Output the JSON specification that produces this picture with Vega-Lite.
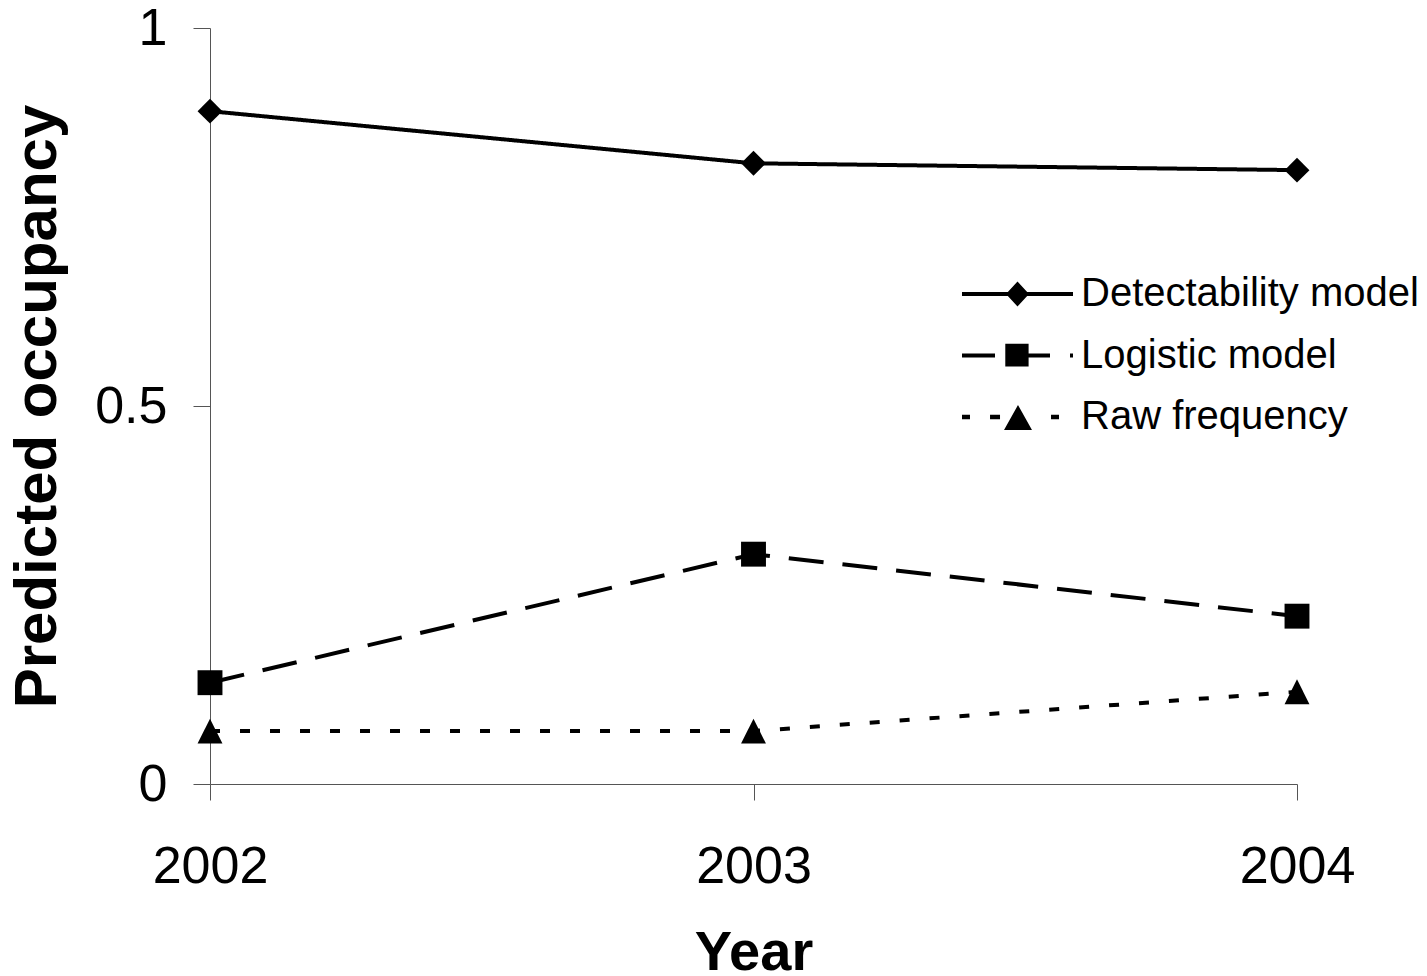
{
  "$schema": "https://vega.github.io/schema/vega-lite/v6.json",
  "width": 1087,
  "height": 756,
  "autosize": {"type": "none"},
  "padding": {"left": 210, "top": 28, "right": 130, "bottom": 192},
  "background": "white",
  "config": {
    "view": {"stroke": null},
    "font": "Liberation Sans",
    "axis": {
      "grid": false,
      "domainColor": "#555555",
      "tickColor": "#555555",
      "domainWidth": 1,
      "tickWidth": 1,
      "labelFont": "Liberation Sans",
      "titleFont": "Liberation Sans",
      "labelColor": "black",
      "titleColor": "black",
      "labelFontSize": 52,
      "labelFontWeight": "normal",
      "titleFontWeight": "bold"
    }
  },
  "data": {
    "values": [
      {"year": 2002, "series": "Detectability model", "value": 0.890},
      {"year": 2003, "series": "Detectability model", "value": 0.821},
      {"year": 2004, "series": "Detectability model", "value": 0.812},
      {"year": 2002, "series": "Logistic model", "value": 0.134},
      {"year": 2003, "series": "Logistic model", "value": 0.304},
      {"year": 2004, "series": "Logistic model", "value": 0.222},
      {"year": 2002, "series": "Raw frequency", "value": 0.070},
      {"year": 2003, "series": "Raw frequency", "value": 0.070},
      {"year": 2004, "series": "Raw frequency", "value": 0.122}
    ]
  },
  "encoding": {
    "x": {
      "field": "year",
      "type": "ordinal",
      "scale": {"type": "point", "domain": [2002, 2003, 2004], "padding": 0},
      "axis": {
        "title": "Year",
        "labelAngle": 0,
        "labelFlush": false,
        "labelOverlap": false,
        "tickSize": 16,
        "labelPadding": 41,
        "titleFontSize": 56,
        "titlePadding": 33
      }
    },
    "y": {
      "field": "value",
      "type": "quantitative",
      "scale": {"domain": [0, 1], "nice": false},
      "axis": {
        "title": "Predicted occupancy",
        "values": [0, 0.5, 1],
        "labelExpr": "datum.value == 0.5 ? '0.5' : format(datum.value, 'd')",
        "tickSize": 17,
        "labelPadding": 26,
        "labelFlush": false,
        "labelOverlap": false,
        "titleFontSize": 60,
        "titlePadding": 26
      }
    }
  },
  "layer": [
    {
      "mark": {"type": "line", "color": "black", "strokeWidth": 4, "strokeCap": "butt"},
      "encoding": {
        "detail": {"field": "series"},
        "strokeDash": {
          "field": "series",
          "type": "nominal",
          "scale": {
            "domain": ["Detectability model", "Logistic model", "Raw frequency"],
            "range": [[1, 0], [35, 19], [10, 20]]
          },
          "legend": null
        }
      }
    },
    {
      "mark": {"type": "point", "filled": true, "color": "black", "opacity": 1, "size": 620, "strokeWidth": 0},
      "encoding": {
        "shape": {
          "field": "series",
          "type": "nominal",
          "scale": {
            "domain": ["Detectability model", "Logistic model", "Raw frequency"],
            "range": ["diamond", "square", "M0,-1L1,1L-1,1Z"]
          },
          "legend": null
        }
      }
    },
    {
      "transform": [{"filter": "false"}],
      "mark": {"type": "point", "filled": true, "color": "black", "opacity": 1, "size": 12321, "strokeWidth": 0},
      "encoding": {
        "shape": {
          "field": "series",
          "type": "nominal",
          "scale": {
            "domain": ["Detectability model", "Logistic model", "Raw frequency"],
            "range": [
              "M-1,-0.036L1,-0.036L1,0.036L-1,0.036Z M-0.207,0L0,-0.225L0.207,0L0,0.225Z",
              "M-1,-0.036L-0.405,-0.036L-0.405,0.036L-1,0.036Z M-0.22,-0.21L0.2,-0.21L0.2,0.2L-0.22,0.2Z M0.2,-0.036L0.586,-0.036L0.586,0.036L0.2,0.036Z M0.946,-0.036L1,-0.036L1,0.036L0.946,0.036Z",
              "M-1,-0.04L-0.856,-0.04L-0.856,0.04L-1,0.04Z M-0.495,-0.04L-0.315,-0.04L-0.315,0.04L-0.495,0.04Z M0.009,-0.216L0.261,0.234L-0.243,0.234Z M0.604,-0.04L0.748,-0.04L0.748,0.04L0.604,0.04Z"
            ]
          },
          "legend": {
            "title": null,
            "orient": "none",
            "legendX": 752,
            "legendY": 241,
            "padding": 0,
            "symbolOffset": 0,
            "symbolSize": 12321,
            "symbolStrokeWidth": 0,
            "symbolFillColor": "black",
            "symbolOpacity": 1,
            "labelOffset": 8,
            "labelFontSize": 40,
            "labelFont": "Liberation Sans",
            "labelColor": "black",
            "labelLimit": 500,
            "clipHeight": 50,
            "rowPadding": 11.5
          }
        }
      }
    }
  ],
  "resolve": {"scale": {"shape": "independent"}, "legend": {"shape": "independent"}}
}
